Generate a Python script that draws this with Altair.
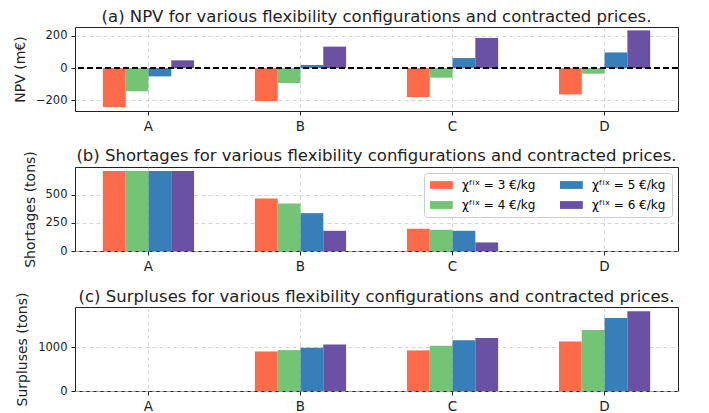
import altair as alt
import pandas as pd

categories = ["A", "B", "C", "D"]
prices = [3, 4, 5, 6]
colors = ["#fd6b4b", "#74c476", "#387eb9", "#6a51a3"]

npv_3 = [-242, -205, -180, -164]
npv_4 = [-145, -93, -60, -35]
npv_5 = [-52, 19, 62, 97]
npv_6 = [48, 133, 187, 234]

short_3 = [708, 464, 197, 0]
short_4 = [708, 420, 188, 0]
short_5 = [708, 335, 179, 0]
short_6 = [708, 179, 76, 0]

surp_3 = [0, 909, 932, 1136]
surp_4 = [0, 940, 1038, 1402]
surp_5 = [0, 993, 1167, 1675]
surp_6 = [0, 1068, 1220, 1834]

titles = [
    "(a) NPV for various flexibility configurations and contracted prices.",
    "(b) Shortages for various flexibility configurations and contracted prices.",
    "(c) Surpluses for various flexibility configurations and contracted prices.",
]
ylabels = ["NPV (m€)", "Shortages (tons)", "Surpluses (tons)"]

labels = [f"χᶠⁱˣ = {p} €/kg" for p in prices]


def make_df(series):
    rows = []
    for lab, vals in zip(labels, series):
        for c, v in zip(categories, vals):
            rows.append({"cat": c, "label": lab, "value": v})
    return pd.DataFrame(rows)


df_npv = make_df([npv_3, npv_4, npv_5, npv_6])
df_short = make_df([short_3, short_4, short_5, short_6])
df_surp = make_df([surp_3, surp_4, surp_5, surp_6])

W, H = 603, 84

x_enc = alt.X(
    "cat:N",
    scale=alt.Scale(paddingInner=0.4, paddingOuter=0.183),
    axis=alt.Axis(title=None, labelAngle=0, bandPosition=0.5, labelFontSize=13.5),
)
xoff_enc = alt.XOffset("label:N", scale=alt.Scale(domain=labels, paddingInner=0, paddingOuter=0))


def panel(df, title, ylabel, domain, ticks, title_dy=0, legend=False, zero_line=False):
    color = alt.Color(
        "label:N",
        scale=alt.Scale(domain=labels, range=colors),
        legend=alt.Legend(
            title=None,
            orient="top-right",
            columns=2,
            offset=6,
            fillColor="white",
            strokeColor="#cccccc",
            cornerRadius=3,
            padding=6,
            labelFontSize=12,
            labelOffset=20,
            columnPadding=24,
            rowPadding=8,
            symbolType="M-1,-0.65H2.8V0.65H-1Z",
            symbolSize=144,
            symbolStrokeWidth=0,
            symbolOpacity=1,
        ) if legend else None,
    )
    bars = alt.Chart(df).mark_bar(opacity=1).encode(
        x=x_enc,
        xOffset=xoff_enc,
        y=alt.Y(
            "value:Q",
            scale=alt.Scale(domain=domain, nice=False, zero=False),
            axis=alt.Axis(title=ylabel, values=ticks, format="d", titlePadding=8),
        ),
        color=color,
    )
    layers = [bars]
    if zero_line:
        rule = alt.Chart(df).mark_rule(
            color="black", strokeWidth=1.6, strokeDash=[6, 3]
        ).encode(y=alt.datum(0))
        layers.append(rule)
    return alt.layer(*layers).properties(
        width=W, height=H,
        title=alt.TitleParams(title, fontSize=16.5, fontWeight="normal", offset=2, dy=title_dy),
    )


pa = panel(df_npv, titles[0], ylabels[0], [-267, 255], [-200, 0, 200], zero_line=True)
pb = panel(df_short, titles[1], ylabels[1], [0, 744], [0, 250, 500], title_dy=16, legend=True)
pc = panel(df_surp, titles[2], ylabels[2], [0, 1930], [0, 1000], title_dy=15)

chart = alt.vconcat(pa, pb, pc, spacing=56, bounds="flush").resolve_scale(color="independent").properties(
    padding={"top": 0, "left": 4, "right": 0, "bottom": 0}
).configure(
    font="DejaVu Sans",
).configure_view(
    stroke="#222222", strokeWidth=1
).configure_axis(
    domain=False,
    grid=True,
    gridColor="#cccccc",
    gridDash=[4, 3],
    gridWidth=0.8,
    tickColor="#222222",
    tickSize=4,
    labelColor="#222222",
    labelFontSize=11.5,
    labelPadding=4,
    titleFontSize=14,
    titleFontWeight="normal",
    titleColor="#222222",
).configure_title(
    font="DejaVu Sans", color="#222222", anchor="middle"
)

chart.save("out.html", embed_options={"renderer": "svg", "actions": False})
